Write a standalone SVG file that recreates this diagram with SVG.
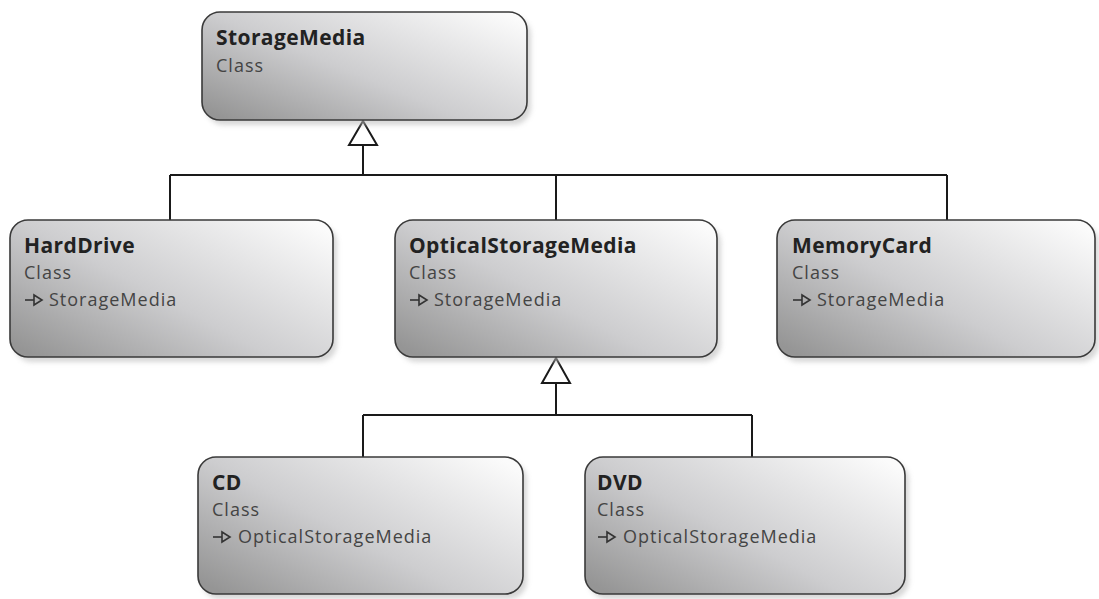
<svg xmlns="http://www.w3.org/2000/svg" width="1099" height="599" viewBox="0 0 1099 599">
<style>
.box{fill:url(#g);stroke:#3a3a3a;stroke-width:1.6}
.sh{fill:#bdbdbd;opacity:0.6}
.t{font-family:"Open Sans","Liberation Sans",sans-serif;font-size:21px;font-weight:700;letter-spacing:0.4px;fill:#222}
.s{font-family:"Open Sans","Liberation Sans",sans-serif;font-size:18px;letter-spacing:1px;fill:#444}
.c{fill:none;stroke:#1a1a1a;stroke-width:2}
.tri{fill:#fff;stroke:#1a1a1a;stroke-width:2;stroke-linejoin:miter}
.ic{fill:none;stroke:#333;stroke-width:1.6}
</style>
<defs>
<linearGradient id="g" x1="0" y1="0.9" x2="1" y2="0.1">
<stop offset="0" stop-color="#959595"/>
<stop offset="0.45" stop-color="#cdcdcf"/>
<stop offset="1" stop-color="#fbfbfb"/>
</linearGradient>
<filter id="blur" x="-10%" y="-10%" width="120%" height="130%"><feGaussianBlur stdDeviation="2.5"/></filter>
<g id="inh"><path class="ic" d="M0 0 H9"/><path class="ic" d="M9 -5 L17 0 L9 5 Z"/></g>
</defs>
<rect width="1099" height="599" fill="#fff"/>

<g id="connectors">
<path class="c" d="M363 145 V175 M170 175 H947 M170 175 V220 M556 175 V220 M947 175 V220"/>
<path class="tri" d="M363 121 L377 145 L349 145 Z"/>
<path class="c" d="M556 383 V415 M363 415 H752 M363 415 V457 M752 415 V457"/>
<path class="tri" d="M556 358 L570 383 L542 383 Z"/>
</g>

<g id="StorageMedia">
<rect class="sh" x="206" y="17" width="325" height="108" rx="18" filter="url(#blur)"/>
<rect class="box" x="202" y="12" width="325" height="108" rx="18"/>
<text class="t" x="216" y="45">StorageMedia</text>
<text class="s" x="216" y="72">Class</text>
</g>

<g id="HardDrive">
<rect class="sh" x="14" y="225" width="323" height="137" rx="18" filter="url(#blur)"/>
<rect class="box" x="10" y="220" width="323" height="137" rx="18"/>
<text class="t" x="24" y="253">HardDrive</text>
<text class="s" x="24" y="279">Class</text>
<use href="#inh" x="25" y="300"/>
<text class="s" x="49" y="306">StorageMedia</text>
</g>

<g id="OpticalStorageMedia">
<rect class="sh" x="399" y="225" width="322" height="137" rx="18" filter="url(#blur)"/>
<rect class="box" x="395" y="220" width="322" height="137" rx="18"/>
<text class="t" x="409" y="253">OpticalStorageMedia</text>
<text class="s" x="409" y="279">Class</text>
<use href="#inh" x="410" y="300"/>
<text class="s" x="434" y="306">StorageMedia</text>
</g>

<g id="MemoryCard">
<rect class="sh" x="781" y="225" width="318" height="137" rx="18" filter="url(#blur)"/>
<rect class="box" x="777" y="220" width="318" height="137" rx="18"/>
<text class="t" x="792" y="253">MemoryCard</text>
<text class="s" x="792" y="279">Class</text>
<use href="#inh" x="793" y="300"/>
<text class="s" x="817" y="306">StorageMedia</text>
</g>

<g id="CD">
<rect class="sh" x="202" y="462" width="325" height="137" rx="18" filter="url(#blur)"/>
<rect class="box" x="198" y="457" width="325" height="137" rx="18"/>
<text class="t" x="212" y="490">CD</text>
<text class="s" x="212" y="516">Class</text>
<use href="#inh" x="213" y="537"/>
<text class="s" x="238" y="543">OpticalStorageMedia</text>
</g>

<g id="DVD">
<rect class="sh" x="589" y="462" width="320" height="137" rx="18" filter="url(#blur)"/>
<rect class="box" x="585" y="457" width="320" height="137" rx="18"/>
<text class="t" x="597" y="490">DVD</text>
<text class="s" x="597" y="516">Class</text>
<use href="#inh" x="598" y="537"/>
<text class="s" x="623" y="543">OpticalStorageMedia</text>
</g>
</svg>
